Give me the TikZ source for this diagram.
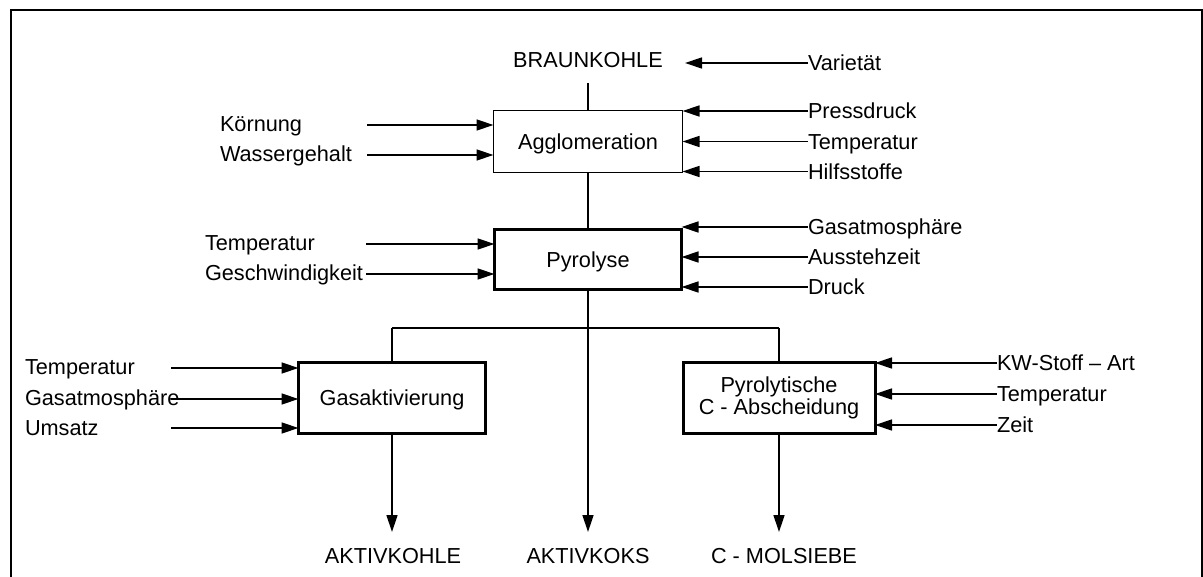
\documentclass[tikz,border=0pt]{standalone}
\usepackage{fontspec}
\setmainfont{Liberation Sans}
\usetikzlibrary{arrows.meta}
\begin{document}
\begin{tikzpicture}[x=1pt,y=-1pt,
  every node/.style={font=\fontsize{21.7}{25}\selectfont, inner sep=0pt, outer sep=0pt},
  lbl/.style={anchor=west, text height=15.5pt, text depth=0pt},
  ctr/.style={text height=15.5pt, text depth=0pt},
  thinbox/.style={draw, line width=1.3pt, minimum width=189pt, minimum height=62pt, text height=15.5pt, text depth=0pt},
  thickbox/.style={draw, line width=3pt, minimum height=71pt},
  ln/.style={line width=1.4pt},
  arr/.style={line width=1.4pt, -{Triangle[length=17pt,width=11pt]}}
]
\useasboundingbox (0,0) rectangle (1203,577);
% frame
\draw[line width=2.2pt] (11,577) -- (11,10) -- (1202,10) -- (1202,577);

% main column
\node[ctr] (braun) at (588,60) {BRAUNKOHLE};
\node[thinbox] (agg) at (588,141.5) {Agglomeration};
\node[thickbox, minimum width=187pt, minimum height=60pt, text height=15.5pt, text depth=0pt] (pyr) at (588,259.5) {Pyrolyse};
\node[thickbox, minimum width=187pt, text height=15.5pt, text depth=0pt] (gas) at (392,398) {Gasaktivierung};
\node[thickbox, minimum width=192pt, align=center, font=\fontsize{21.7}{22.5}\selectfont] (pcab) at (779,398) {Pyrolytische\\C - Abscheidung};

% products
\node[ctr] (akohle) at (393,556) {AKTIVKOHLE};
\node[ctr] (akoks) at (588,556) {AKTIVKOKS};
\node[ctr] (molsieb) at (784,556) {C - MOLSIEBE};

% coordinates
\coordinate (bl) at (588,83);
\coordinate (vt) at (685,63);
\coordinate (hl) at (392,328);
\coordinate (hr) at (779,328);
\coordinate (tip) at (588,532);

% main flow
\draw[ln] (bl) -- (agg.north);
\draw[ln] (agg.south) -- (pyr.north);
\draw[arr] (pyr.south) -- (tip);
\draw[ln] (hl) -- (hr);
\draw[ln] (hl) -- (gas.north);
\draw[ln] (hr) -- (pcab.north);
\draw[arr] (gas.south) -- (gas.south |- tip);
\draw[arr] (pcab.south) -- (pcab.south |- tip);

% Varietaet
\node[lbl] (var) at (808,63) {Varietät};
\draw[arr] (var.west) -- (vt);

% Agglomeration inputs
\node[lbl] (kor) at (220,124) {Körnung};
\node[lbl] (was) at (220,154) {Wassergehalt};
\coordinate (k1) at (367,125);
\coordinate (k2) at (367,155);
\draw[arr] (k1) -- (k1 -| agg.west);
\draw[arr] (k2) -- (k2 -| agg.west);
\node[lbl] (press) at (808,111) {Pressdruck};
\node[lbl] (temp1) at (808,141.5) {Temperatur};
\node[lbl] (hilf) at (808,171.5) {Hilfsstoffe};
\draw[arr] (press.west) -- (press.west -| agg.east);
\draw[arr] (temp1.west) -- (temp1.west -| agg.east);
\draw[arr] (hilf.west) -- (hilf.west -| agg.east);

% Pyrolyse inputs
\node[lbl] (temp2) at (205,243) {Temperatur};
\node[lbl] (gesch) at (205,273) {Geschwindigkeit};
\coordinate (p1) at (366,244);
\coordinate (p2) at (366,274);
\draw[arr] (p1) -- (p1 -| pyr.west);
\draw[arr] (p2) -- (p2 -| pyr.west);
\node[lbl] (gasat1) at (808,227) {Gasatmosphäre};
\node[lbl] (aus) at (808,257) {Ausstehzeit};
\node[lbl] (druck) at (808,287) {Druck};
\draw[arr] (gasat1.west) -- (gasat1.west -| pyr.east);
\draw[arr] (aus.west) -- (aus.west -| pyr.east);
\draw[arr] (druck.west) -- (druck.west -| pyr.east);

% Gasaktivierung inputs
\node[lbl] (temp3) at (25,367) {Temperatur};
\node[lbl] (gasat2) at (25,398) {Gasatmosphäre};
\node[lbl] (ums) at (25,427.5) {Umsatz};
\coordinate (g1) at (171,368);
\coordinate (g2) at (171,399);
\coordinate (g3) at (171,428);
\draw[arr] (g1) -- (g1 -| gas.west);
\draw[arr] (g2) -- (g2 -| gas.west);
\draw[arr] (g3) -- (g3 -| gas.west);

% Pyrolytische C-Abscheidung inputs
\node[lbl] (kw) at (997,363) {KW-Stoff – Art};
\node[lbl] (temp4) at (997,394) {Temperatur};
\node[lbl] (zeit) at (997,425) {Zeit};
\draw[arr] (kw.west) -- (kw.west -| pcab.east);
\draw[arr] (temp4.west) -- (temp4.west -| pcab.east);
\draw[arr] (zeit.west) -- (zeit.west -| pcab.east);
\end{tikzpicture}
\end{document}
